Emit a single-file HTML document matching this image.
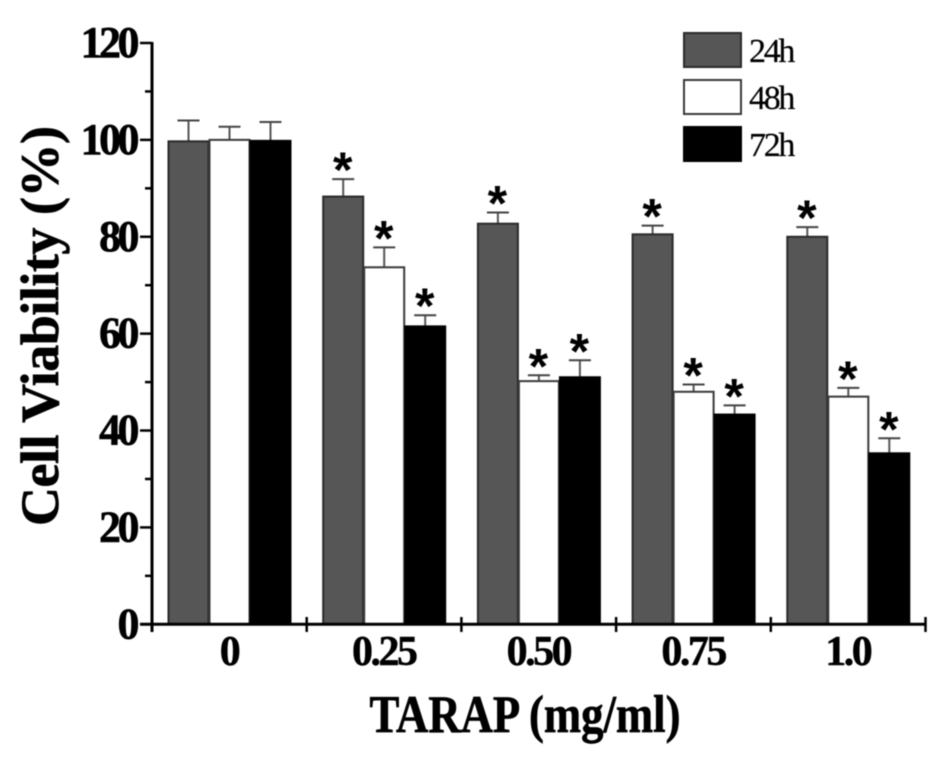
<!DOCTYPE html>
<html>
<head>
<meta charset="utf-8">
<title>Cell Viability Chart</title>
<style>
html,body{margin:0;padding:0;background:#fff;width:945px;height:778px;overflow:hidden}
svg{display:block;filter:blur(0.5px)}
text{font-family:"Liberation Serif",serif;fill:#000}
.tick{font-weight:bold;font-size:44px;letter-spacing:-3.5px;text-anchor:end;stroke:#000;stroke-width:0.6px}
.xtick{font-weight:bold;font-size:42px;letter-spacing:-2.5px;text-anchor:middle;stroke:#000;stroke-width:0.5px}
.leg{font-size:34px;letter-spacing:-2.3px;stroke:#000;stroke-width:0.2px}
.star{font-family:"Liberation Sans",sans-serif;font-weight:bold;font-size:50px;text-anchor:middle}
.title{stroke:#000;stroke-width:0.7px}
</style>
</head>
<body>
<svg id="chart" width="945" height="778" viewBox="0 0 945 778" xmlns="http://www.w3.org/2000/svg">
<text class="title" transform="translate(58,326) rotate(-90)" text-anchor="middle" font-weight="bold" font-size="54" textLength="400" lengthAdjust="spacing">Cell Viability (%)</text>
<text class="title" x="525" y="732" text-anchor="middle" font-weight="bold" font-size="53" textLength="311" lengthAdjust="spacingAndGlyphs">TARAP (mg/ml)</text>
<g id="bars"></g>
<g id="axes"></g>
<g id="legend"></g>
</svg>
<script>
var categories = ['0', '0.25', '0.50', '0.75', '1.0'];
var seriesNames = ['24h', '48h', '72h'];
var values24h = [99.7, 88.3, 82.7, 80.5, 80.0];
var values48h = [100.0, 73.7, 50.2, 48.0, 47.0];
var values72h = [99.8, 61.5, 51.0, 43.3, 35.3];
var errors24h = [4.3, 3.6, 2.3, 1.8, 2.0];
var errors48h = [2.7, 4.1, 1.2, 1.5, 1.8];
var errors72h = [3.9, 2.3, 3.5, 1.9, 3.1];
var significant24h = [false, true, true, true, true];
var significant48h = [false, true, true, true, true];
var significant72h = [false, true, true, true, true];
var yTickLabels = [0, 20, 40, 60, 80, 100, 120];
var yMinorTicks = [10, 30, 50, 70, 90, 110];

var NS = 'http://www.w3.org/2000/svg';
var fills = ['#565656', '#ffffff', '#000000'];
var strokes = ['#2a2a2a', '#3a3a3a', '#000000'];
var allValues = [values24h, values48h, values72h];
var allErrors = [errors24h, errors48h, errors72h];
var allSig = [significant24h, significant48h, significant72h];

function y(v) { return 624.3 - v * (624.3 - 43) / 120; }
function xEdge(i) { return 152 + i * 154.7; }
function xBar(g, s) { return xEdge(g) + 16.5 + s * 41; }

function make(parent, tag, attrs, text) {
  var el = document.createElementNS(NS, tag);
  for (var k in attrs) el.setAttribute(k, attrs[k]);
  if (text !== undefined) el.textContent = text;
  parent.appendChild(el);
  return el;
}

var barsG = document.getElementById('bars');
var axesG = document.getElementById('axes');
var legendG = document.getElementById('legend');

categories.forEach(function (cat, g) {
  allValues.forEach(function (vals, s) {
    var bx = xBar(g, s), w = 40, cx = bx + w / 2;
    var top = y(vals[g]), errTop = y(vals[g] + allErrors[s][g]);
    var stem = make(barsG, 'line', {x1: cx, x2: cx, y1: top, y2: errTop, stroke: '#555', 'stroke-width': 2});
    
    
    var cap = make(barsG, 'line', {x1: cx - 11, x2: cx + 11, y1: errTop, y2: errTop, stroke: '#444', 'stroke-width': 2});
    
    
    var bar = make(barsG, 'rect', {x: bx, y: top, width: w, height: y(0) - top, fill: fills[s], stroke: strokes[s], 'stroke-width': 2});
    
    
    if (allSig[s][g]) {
      var star = make(barsG, 'text', {x: cx - 0.5, y: errTop + 8, 'class': 'star'}, '*');
      
      
    }
  });
});

var yLine = make(axesG, 'line', {x1: 152, x2: 152, y1: 42, y2: 632, stroke: '#000', 'stroke-width': 3});


var xLine = make(axesG, 'line', {x1: 140, x2: 926, y1: y(0), y2: y(0), stroke: '#000', 'stroke-width': 3});



yTickLabels.forEach(function (t) {
  var tick = make(axesG, 'line', {x1: 140, x2: 152, y1: y(t), y2: y(t), stroke: '#000', 'stroke-width': 2.5});
  
  
  var label = make(axesG, 'text', {x: 136, y: y(t) + 14, 'class': 'tick'}, String(t));
  
  
});
yMinorTicks.forEach(function (t) {
  var tick = make(axesG, 'line', {x1: 145, x2: 152, y1: y(t), y2: y(t), stroke: '#000', 'stroke-width': 2.5});
  
  
});
for (var i = 0; i <= categories.length; i++) {
  var xt = make(axesG, 'line', {x1: xEdge(i), x2: xEdge(i), y1: 617, y2: 632, stroke: '#000', 'stroke-width': 2.5});
  
  
}
categories.forEach(function (cat, g) {
  var lbl = make(axesG, 'text', {x: xEdge(g) + 77, y: 665, 'class': 'xtick'}, cat);
  
  
});

seriesNames.forEach(function (name, s) {
  var ly = 33 + s * 47;
  var sw = make(legendG, 'rect', {x: 684, y: ly, width: 57, height: 34, fill: fills[s], stroke: strokes[s], 'stroke-width': 2});
  
  
  var lt = make(legendG, 'text', {x: 749, y: ly + 29, 'class': 'leg'}, name);
  
  
});
</script>
</body>
</html>
